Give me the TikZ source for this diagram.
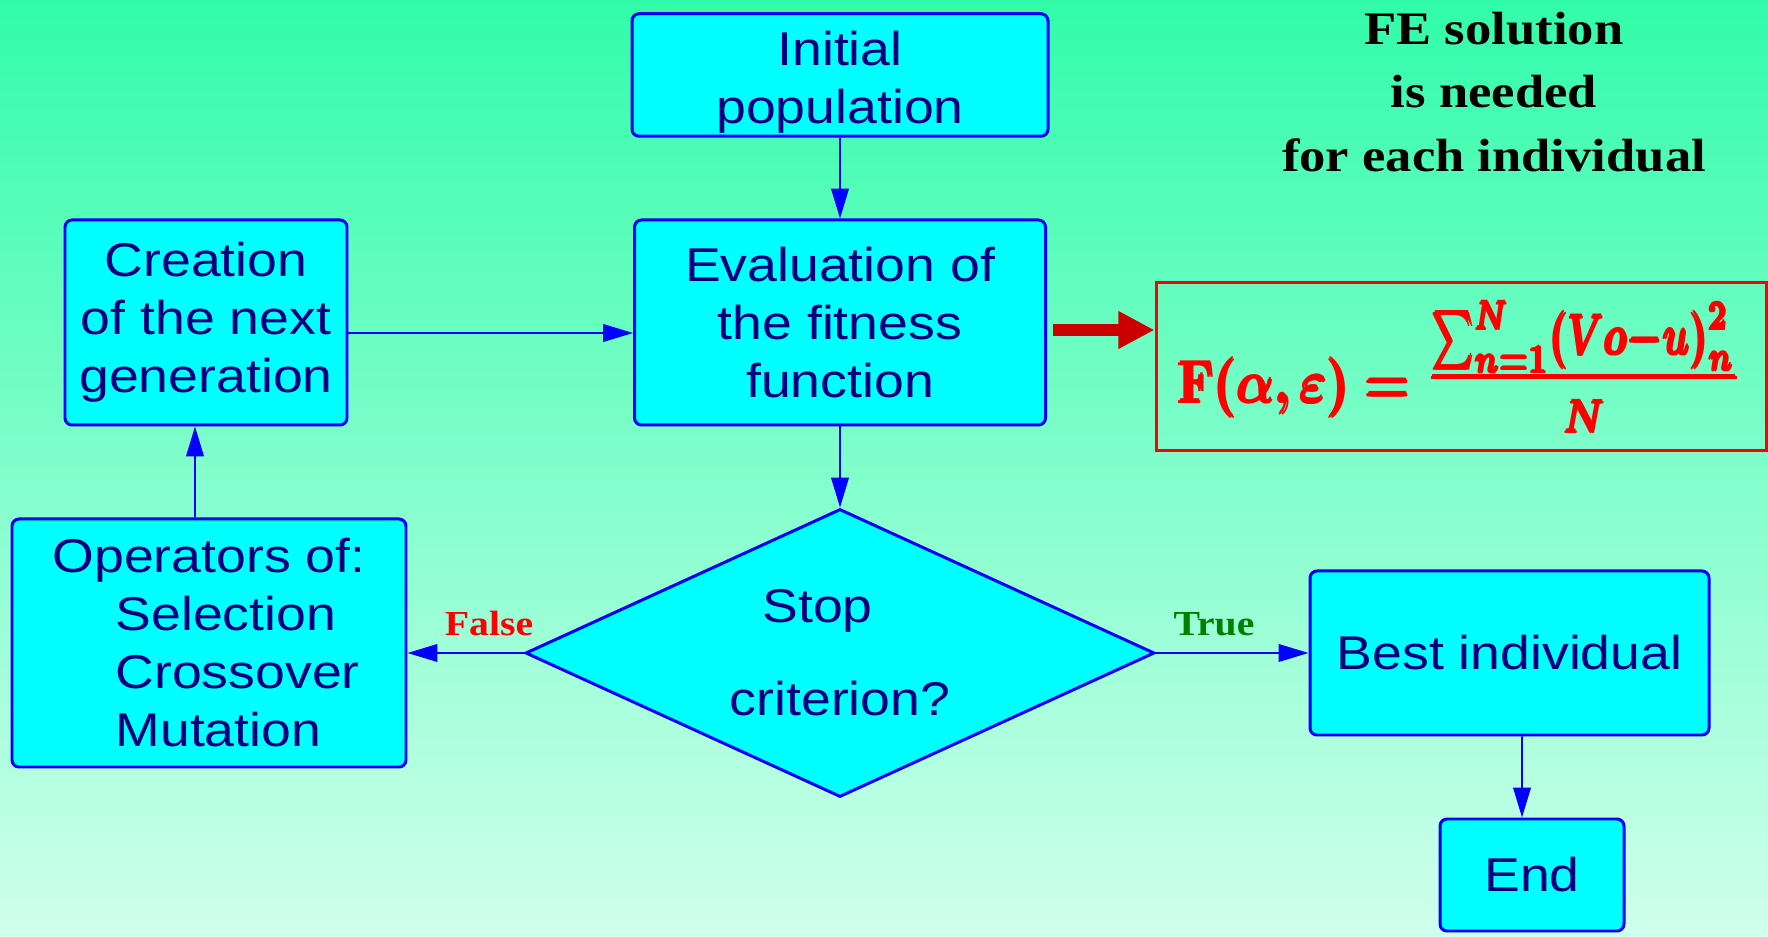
\documentclass[tikz,border=0pt]{standalone}
\usepackage{fontspec}
\setmainfont{Liberation Serif}
\setsansfont[FakeStretch=1.13]{Liberation Sans}
\newfontfamily\serifwide[FakeStretch=1.13]{Liberation Serif}
\usepackage{amsmath}
\usepackage{graphicx}
\usepackage{xcolor}
\usetikzlibrary{arrows.meta}
\usetikzlibrary{shapes.geometric}
\definecolor{bgtop}{RGB}{50,252,170}
\definecolor{bgbot}{RGB}{208,255,236}
\definecolor{boxfill}{RGB}{0,255,255}
\definecolor{boxtext}{RGB}{0,0,128}
\definecolor{arrowred}{RGB}{204,0,0}
\definecolor{truegreen}{RGB}{0,128,0}

\begin{document}
\begin{tikzpicture}[>={Triangle[length=17pt,width=10pt]},
  block/.style={draw=blue, fill=boxfill, line width=1.7pt, rounded corners=4pt, text=boxtext,
    font=\sffamily\fontsize{27}{33}\selectfont, align=center, inner sep=0pt},
  decision/.style={block, diamond, aspect=2.2, rounded corners=0pt},
  link/.style={draw=blue, line width=1.1pt, ->},
  answer/.style={font=\serifwide\bfseries\fontsize{20}{24}\selectfont, above=6pt}]
\shade[top color=bgtop, bottom color=bgbot] (0,0) rectangle (35.36,18.74);

\node[block, minimum width=8.32cm, minimum height=2.45cm] (init) at (16.8,17.24)
  {\raisebox{-0.14cm}[\height][\depth]{Initial}\\\raisebox{-0.14cm}[\height][\depth]{population}};
\node[block, minimum width=8.22cm, minimum height=4.1cm] (eval) at (16.8,12.29) {Evaluation of\\the fitness\\function};
\node[block, minimum width=5.64cm, minimum height=4.1cm] (creat) at (4.12,12.29) {Creation\\of the next\\generation};
\node[block, align=left, minimum width=7.88cm, minimum height=4.96cm] (oper) at (4.18,5.88)
  {Operators of:\\\hspace*{1.26cm}Selection\\\hspace*{1.26cm}Crossover\\\hspace*{1.26cm}Mutation};
\node[decision, minimum width=12.58cm, minimum height=5.76cm] (stop) at (16.8,5.68) {Stop\hspace*{0.9cm}\\[20pt]criterion?};
\node[block, minimum width=7.98cm, minimum height=3.28cm] (best) at (30.19,5.68) {Best individual};
\node[block, minimum width=3.68cm, minimum height=2.24cm] (end) at (30.64,1.24) {End};

\node[draw=red, line width=1.7pt, text=red, inner sep=0pt, minimum width=12.2cm, minimum height=3.36cm] (formula) at (29.22,11.4)
  {\scalebox{2.85}[3.4]{\boldmath$\pmb{\mathbf{F}(\alpha,\varepsilon)=\raisebox{1.8pt}{$\frac{\scalebox{1}[1.38]{$\scriptstyle\sum_{n=1}^{N}(Vo-u)_{n}^{2}$}\rule[-1.5pt]{0pt}{0pt}}{\rule{0pt}{8.8pt}\scalebox{1}[1.12]{$\scriptstyle N$}}$}}$}};
\node[font=\serifwide\bfseries\fontsize{26.5}{36.2}\selectfont, align=center] (fenote) at (29.88,16.9)
  {FE solution\\is needed\\for each individual};

\draw[link] (init.south) -- (eval.north);
\draw[link] (eval.south) -- (stop.north);
\draw[link] ([yshift=-0.21cm]creat.east) -- ([yshift=-0.21cm]eval.west);
\draw[link] ([xshift=-0.28cm]oper.north) -- ([xshift=-0.22cm]creat.south);
\draw[link] (stop.west) -- (stop.west -| oper.east) node[answer, text=red, pos=0.3] {False};
\draw[link] (stop.east) -- (best.west) node[answer, text=truegreen, pos=0.38] {True};
\draw[link] ([xshift=0.25cm]best.south) -- ([xshift=-0.2cm]end.north);

\coordinate (rstart) at ([xshift=0.12cm,yshift=-0.15cm]eval.east);
\draw[arrowred, line width=6.8pt, -{Triangle[length=20.5pt,width=20pt]}] (rstart) -- (rstart -| formula.west);
\end{tikzpicture}
\end{document}
